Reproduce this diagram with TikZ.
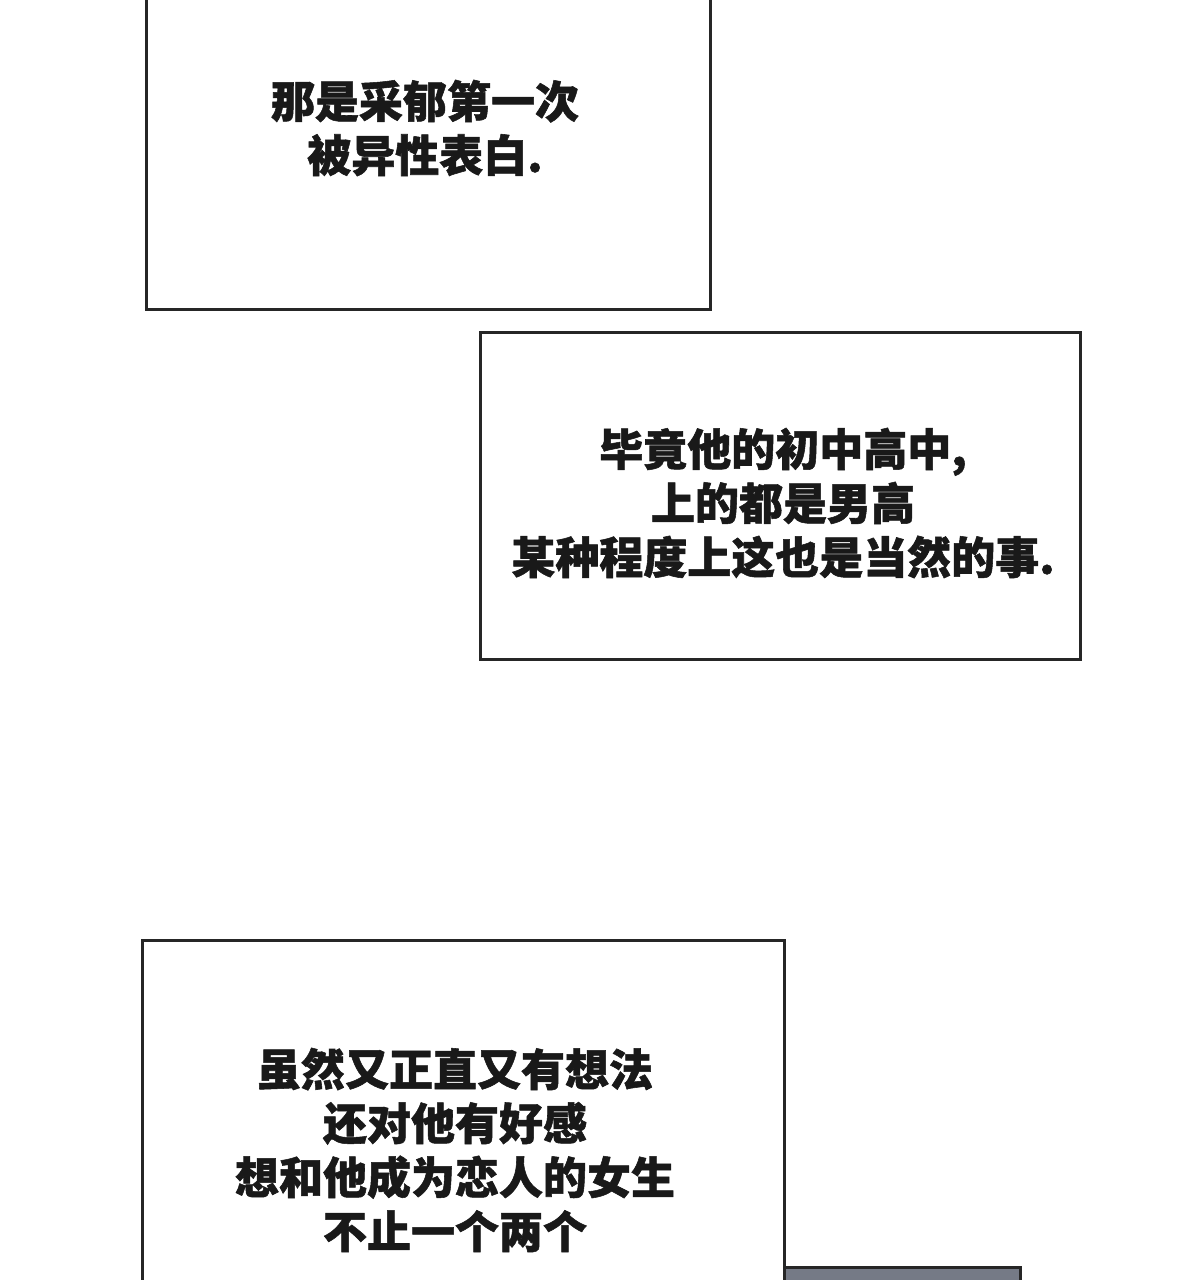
\documentclass[tikz,border=0pt]{standalone}
\usepackage{fontspec}
\newfontfamily\cjk[FakeBold=1.2]{Noto Sans CJK SC}
\begin{document}
\begin{tikzpicture}[x=1pt,y=-1pt,
 panel/.style={draw=black!85,line width=3pt,fill=white},
 txt/.style={font=\cjk\bfseries\fontsize{44}{54}\selectfont,align=center,text=black!90}]
\useasboundingbox (0,0) rectangle (1200,1280);
\fill[white] (0,0) rectangle (1200,1280);
\draw[panel] (146,-10) rectangle (710,309);
\draw[panel] (480,332) rectangle (1080,659);
\draw[panel] (142,940) rectangle (784,1295);
\definecolor{gbox}{HTML}{757A86}
\draw[draw=black!85,line width=3pt,fill=gbox] (784,1267) rectangle (1020,1295);
\node[txt] (t1) at (425,128) {那是采郁第一次\\被异性表白.};
\node[txt] (t2) at (783,503) {毕竟他的初中高中,\\上的都是男高\\某种程度上这也是当然的事.};
\node[txt] (t3) at (455,1150) {虽然又正直又有想法\\还对他有好感\\想和他成为恋人的女生\\不止一个两个};
\end{tikzpicture}
\end{document}
